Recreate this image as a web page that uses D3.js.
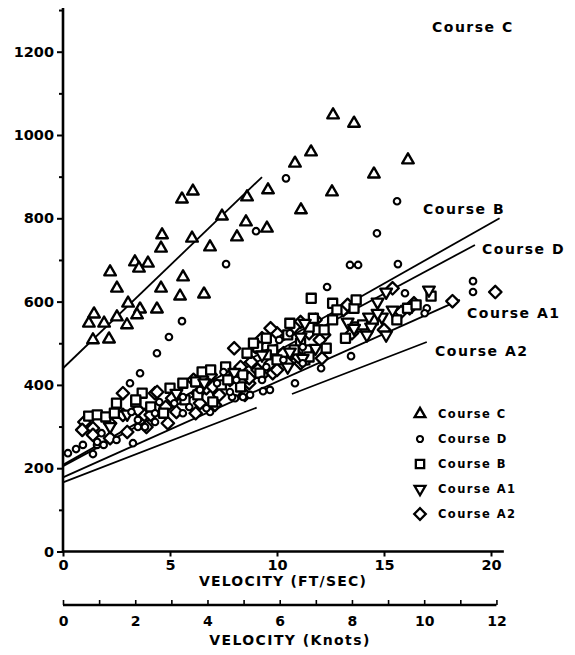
<!DOCTYPE html>
<html>
<head>
<meta charset="utf-8">
<script src="https://cdn.jsdelivr.net/npm/d3@7"></script>
<style>
  html, body { margin: 0; padding: 0; background: #fff; }
  svg { display: block; }
  text { font-family: "DejaVu Sans", sans-serif; fill: #000; }
</style>
</head>
<body>
<script>
// Head loss vs. velocity, five courses: [velocity ft/s, value]
const courseC = [[1.45,570],[1.21,548],[1.92,548],[1.40,508],[2.15,510],[2.52,632],[2.20,671],[3.36,695],[3.97,692],[3.55,680],[4.58,632],[5.61,659],[5.47,613],[6.59,618],[3.04,596],[2.52,563],[3.60,582],[3.46,568],[4.39,582],[2.99,544],[4.63,760],[4.58,728],[5.56,846],[6.07,865],[7.43,805],[8.60,851],[8.55,791],[9.58,868],[8.13,755],[6.03,752],[6.87,731],[9.53,776],[10.84,932],[11.12,820],[12.62,1048],[13.6,1028],[11.59,959],[16.12,940],[14.53,906],[12.57,863]];

const courseD = [[9.02,769],[10.42,896],[15.61,841],[14.67,764],[7.62,690],[5.56,553],[4.95,515],[4.39,476],[3.60,428],[3.13,404],[13.41,688],[13.79,688],[15.65,690],[12.34,635],[15.98,620],[19.16,649],[19.16,623],[17.0,584],[13.46,469],[12.06,440],[10.84,404],[9.67,388],[9.35,385],[8.74,376],[8.41,371],[8.04,368],[6.87,335],[3.83,299],[0.23,236],[0.61,246],[0.93,256],[1.40,234],[1.59,256],[3.27,260],[16.9,572],
  [3.2,335],[4.3,332],[5.2,356],[1.8,284],[2.5,268],[1.6,263],[1.9,256],[3.5,299],[4.3,311],[5.6,332],[6.7,344],[7.9,371],[4.5,359],[5.6,371],[7.2,404],[9.5,443],[3.5,316],[5.9,347],[7.8,383],[9.3,412],[10.1,508],[7.5,431],[6.4,388],[8.1,412],[10.3,460],[11.2,491],[11.2,452],[10.6,524]];

const courseB = [[1.2,325],[1.6,328],[2.0,323],[2.4,332],[2.5,356],[3.7,380],[5.0,392],[3.4,359],[5.7,364],[7.4,400],
  [3.4,364],[5.6,404],[6.5,431],[7.6,443],[8.6,476],[9.5,512],[10.5,520],[11.3,460],[4.1,347],[6.3,376],[8.4,424],[10.0,460],[9.8,484],[4.7,332],[7.0,359],[8.3,395],[11.4,484],[10.6,548],[11.9,532],[9.1,491],[6.9,436],[6.2,407],[7.7,412],[9.2,428],[11.1,500],[9.5,472],[12.2,532],[12.3,488],[10.8,484],[11.5,467],[8.9,500],[11.5,539],
  [11.6,608],[12.6,596],[12.6,556],[13.2,512],[11.7,560],[17.2,613],[13.7,539],[13.6,584],[15.6,556],[16.1,584],[14.0,544],[14.5,556],[12.8,580],[13.7,604],[16.5,592]];

const courseA1 = [[14.7,599],[14.3,563],[17.1,628],[15.1,623],[15.4,580],[14.9,563],[14.4,539],[13.3,551],[14.2,520],[15.1,520],[13.6,536],[14.7,572],[11.2,464],[11.1,515],[9.3,472],[10.5,443],[10.6,479],[11.3,548],[11.8,488],[2.2,300],[3.0,330],[5.3,380],[6.6,405],[8.0,430]];

const courseA2 = [[1.0,311],[0.9,292],[1.4,296],[2.2,308],[2.8,380],[4.3,380],[2.8,328],[3.8,328],[4.8,347],[6.3,380],[8.4,404],[1.4,280],[2.2,272],[3.0,287],[3.9,299],[4.9,308],[6.2,332],[7.1,352],[8.5,376],
  [4.4,383],[6.1,412],[6.9,424],[9.0,491],[10.0,524],[10.6,472],[3.5,340],[5.1,368],[6.7,392],[7.8,412],[9.1,436],[10.3,476],[8.8,455],[4.1,328],[5.3,335],[6.4,356],[7.3,376],[8.7,404],[9.8,428],[11.1,452],[9.7,536],[11.1,551],[12.2,520],[9.3,512],[8.3,443],[6.5,419],[7.0,395],[8.6,419],[9.7,452],[11.4,464],[10.8,539],[11.8,556],[11.5,524],[12.0,508],[11.0,467],[12.1,464],[8.0,488],
  [18.2,601],[20.2,623],[16.4,596],[15.4,632],[15.0,532],[13.5,524],[13.1,580],[15.8,575],[10.5,452],[10.0,436],[9.3,424],[8.7,416],[8.3,407],[13.3,592],[16.2,584]];

// Fitted straight lines: [[x0, y0], [x1, y1]]
const fitC  = [[0, 440], [9.3, 899]];
const fitB  = [[0, 208], [20.4, 800]];
const fitD  = [[0, 205], [19.25, 736]];
const fitA1 = [[0, 178], [18.55, 604]];
const fitA2 = [[0, 166], [17.0, 503]];

const yMajor = [0, 200, 400, 600, 800, 1000, 1200];
const yMinor = [100, 300, 500, 700, 900, 1100, 1300];
const xTicks = [0, 5, 10, 15, 20];
const knotTicks = d3.range(0, 13);
const legendNames = ["Course C", "Course D", "Course B", "Course A1", "Course A2"];

const FTS_PER_KNOT = 1.6878;

const W = 575, H = 655;
const svg = d3.select("body").append("svg").attr("width", W).attr("height", H);

const x = d3.scaleLinear().domain([0, 20]).range([63, 491]);
const y = d3.scaleLinear().domain([0, 1200]).range([551.5, 51.7]);
const xk = d3.scaleLinear().domain([0, 12]).range([x(0), x(12 * FTS_PER_KNOT)]);

const ink = "#000";
const fmt = d3.format("d");

// ---- axes ----
const gY = svg.append("g").attr("transform", `translate(${x(0)},0)`);
gY.append("line").attr("x1", 0).attr("x2", 0).attr("y1", y(0)).attr("y2", y(1305))
  .attr("stroke", ink).attr("stroke-width", 2.6);
gY.call(d3.axisLeft(y).tickValues(yMajor).tickSize(6).tickPadding(3).tickFormat(fmt));
gY.append("g").call(d3.axisLeft(y).tickValues(yMinor).tickSize(4).tickFormat(""));
gY.selectAll(".domain").remove();
gY.selectAll(".tick line").attr("stroke", ink).attr("stroke-width", 2);
gY.selectAll(".tick text").style("font-size", "14.5px").style("font-weight", "bold")
  .style("font-family", "DejaVu Sans").attr("fill", ink);

const gX = svg.append("g").attr("transform", `translate(0,${y(0)})`);
gX.append("line").attr("x1", x(0)).attr("x2", x(20.6)).attr("y1", 0).attr("y2", 0)
  .attr("stroke", ink).attr("stroke-width", 2.6);
gX.call(d3.axisBottom(x).tickValues(xTicks).tickSize(5).tickFormat(fmt));
gX.selectAll(".domain").remove();
gX.selectAll(".tick line").attr("stroke", ink).attr("stroke-width", 2);
gX.selectAll(".tick text").attr("y", 13).attr("dy", "0.35em")
  .style("font-size", "14.5px").style("font-weight", "bold").style("font-family", "DejaVu Sans").attr("fill", ink);

svg.append("text").attr("x", 283).attr("y", 581).attr("dy", "0.35em").attr("text-anchor", "middle")
  .style("font-size", "14px").style("font-weight", "bold").style("letter-spacing", "1.2px")
  .text("VELOCITY (FT/SEC)");

// knots scale
const kY = 605;
const gK = svg.append("g").attr("transform", `translate(0,${kY})`);
gK.append("line").attr("x1", xk(0)).attr("x2", xk(12)).attr("y1", 0).attr("y2", 0)
  .attr("stroke", ink).attr("stroke-width", 2.4);
gK.call(d3.axisBottom(xk).tickValues(knotTicks).tickSize(-5)
  .tickFormat(d => d % 2 === 0 ? d : ""));
gK.selectAll(".domain").remove();
gK.selectAll(".tick line").attr("stroke", ink).attr("stroke-width", 1.6);
gK.selectAll(".tick text").attr("y", 16).attr("dy", "0.35em")
  .style("font-size", "14px").style("font-weight", "bold").style("font-family", "DejaVu Sans").attr("fill", ink);

svg.append("text").attr("x", 290).attr("y", 640).attr("dy", "0.35em").attr("text-anchor", "middle")
  .style("font-size", "14px").style("font-weight", "bold").style("letter-spacing", "1.4px")
  .text("VELOCITY (Knots)");

// ---- fitted lines ----
const line = d3.line().x(d => x(d[0])).y(d => y(d[1]));
[fitC, fitB, fitD, fitA1].forEach(f => {
  svg.append("path").attr("d", line(f)).attr("fill", "none")
    .attr("stroke", ink).attr("stroke-width", 1.8);
});
// the A2 line is interrupted between about 9 and 10.7 ft/s
{
  const p = svg.append("path").attr("d", line(fitA2)).attr("fill", "none")
    .attr("stroke", ink).attr("stroke-width", 1.8);
  const len = p.node().getTotalLength();
  const span = fitA2[1][0] - fitA2[0][0];
  const g0 = len * (9.05 - fitA2[0][0]) / span;
  const g1 = len * (10.7 - fitA2[0][0]) / span;
  p.attr("stroke-dasharray", `${g0},${g1 - g0},${len}`);
}

// ---- markers ----
const shapes = {
  C:  { type: d3.symbolTriangle, size: 58, rot: 0, sw: 2.4 },
  D:  { type: d3.symbolCircle,   size: 34, rot: 0, sw: 2.1 },
  B:  { type: d3.symbolSquare,   size: 82, rot: 0, sw: 2.3 },
  A1: { type: d3.symbolTriangle, size: 60, rot: 180, sw: 2.3 },
  A2: { type: d3.symbolSquare,   size: 78, rot: 45, sw: 2.3 }
};

function drawSeries(data, key) {
  const s = shapes[key];
  const path = d3.symbol().type(s.type).size(s.size)();
  svg.append("g").selectAll("path").data(data).join("path")
    .attr("d", path)
    .attr("transform", d => `translate(${x(d[0])},${y(d[1])}) rotate(${s.rot})`)
    .attr("fill", "#fff").attr("stroke", ink).attr("stroke-width", s.sw)
    .attr("stroke-linejoin", "round");
}
drawSeries(courseA2, "A2");
drawSeries(courseB, "B");
drawSeries(courseA1, "A1");
drawSeries(courseD, "D");
drawSeries(courseC, "C");

// ---- line labels ----
const lineLabels = [
  { t: "Course C",  px: 432, py: 27 },
  { t: "Course B",  px: 423, py: 209 },
  { t: "Course D",  px: 482, py: 249 },
  { t: "Course A1", px: 467, py: 313 },
  { t: "Course A2", px: 435, py: 351 }
];
svg.append("g").selectAll("text").data(lineLabels).join("text")
  .attr("x", d => d.px).attr("y", d => d.py).attr("dy", "0.35em")
  .style("font-size", "14px").style("font-weight", "bold").style("letter-spacing", "1.5px")
  .text(d => d.t);

// ---- legend ----
const legendKeys = ["C", "D", "B", "A1", "A2"];
const lg = svg.append("g").attr("transform", "translate(420,414)");
legendKeys.forEach((k, i) => {
  const s = shapes[k];
  const row = lg.append("g").attr("transform", `translate(0,${i * 25})`);
  row.append("path").attr("d", d3.symbol().type(s.type).size(s.size * 0.85)())
    .attr("transform", `rotate(${s.rot})`)
    .attr("fill", "#fff").attr("stroke", ink).attr("stroke-width", s.sw);
  row.append("text").attr("x", 18).attr("y", 0).attr("dy", "0.35em")
    .style("font-size", "11.5px").style("font-weight", "bold").style("letter-spacing", "1.4px")
    .text(legendNames[i]);
});
</script>
</body>
</html>
